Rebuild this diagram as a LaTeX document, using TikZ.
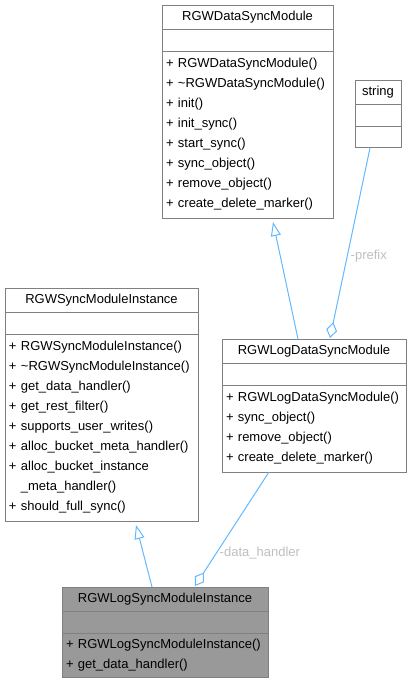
\documentclass[tikz,border=0pt]{standalone}
\usepackage{fontspec}
\setmainfont{Liberation Sans}
\usetikzlibrary{positioning,arrows.meta}
\definecolor{edgeblue}{HTML}{63B8FF}
\definecolor{boxgray}{HTML}{808080}
\definecolor{labelgray}{HTML}{BEBEBE}
\definecolor{curfill}{HTML}{999999}

\begin{document}
\begin{tikzpicture}[
    x=1pt, y=-1pt,
    font=\fontsize{13}{20}\selectfont,
    % Class box parts
    head/.style={draw=boxgray, fill=white, line width=1pt, minimum width=#1pt, minimum height=24pt, inner sep=0pt, outer sep=0pt},
    attr/.style={head=#1, minimum height=22pt},
    ops/.style={head=#1, inner xsep=4pt, text width={#1pt-8pt}, align=left},
    current/.style={fill=curfill},
    % Edge styles
    inherit/.style={-{Triangle[open, length=14pt, width=10pt]}, draw=edgeblue, line width=1pt},
    aggr/.style={{Diamond[open, length=16pt, width=11pt]}-, draw=edgeblue, line width=1pt},
    elabel/.style={text=labelgray, inner sep=0pt},
]
    \useasboundingbox (0,0) rectangle (411,683);

    % RGWDataSyncModule
    \node[head=171] (dsm) at (247.5,17) {RGWDataSyncModule};
    \node[attr=171, below=0pt of dsm] (dsm-attr) {};
    \node[ops=171, minimum height=167pt, below=0pt of dsm-attr] (dsm-ops) {%
        + RGWDataSyncModule()\\
        + \textasciitilde RGWDataSyncModule()\\
        + init()\\
        + init\_sync()\\
        + start\_sync()\\
        + sync\_object()\\
        + remove\_object()\\
        + create\_delete\_marker()};

    % string
    \node[head=46] (str) at (378,92) {string};
    \node[attr=46, below=0pt of str] (str-attr) {};
    \node[attr=46, minimum height=21pt, below=0pt of str-attr] (str-ops) {};

    % RGWSyncModuleInstance
    \node[head=193] (smi) at (101.5,300) {RGWSyncModuleInstance};
    \node[attr=193, below=0pt of smi] (smi-attr) {};
    \node[ops=193, minimum height=187pt, below=0pt of smi-attr] (smi-ops) {%
        + RGWSyncModuleInstance()\\
        + \textasciitilde RGWSyncModuleInstance()\\
        + get\_data\_handler()\\
        + get\_rest\_filter()\\
        + supports\_user\_writes()\\
        + alloc\_bucket\_meta\_handler()\\
        + alloc\_bucket\_instance\\
        \phantom{+ }\_meta\_handler()\\
        + should\_full\_sync()};

    % RGWLogDataSyncModule
    \node[head=184] (ldsm) at (314,351) {RGWLogDataSyncModule};
    \node[attr=184, below=0pt of ldsm] (ldsm-attr) {};
    \node[ops=184, minimum height=87pt, below=0pt of ldsm-attr] (ldsm-ops) {%
        + RGWLogDataSyncModule()\\
        + sync\_object()\\
        + remove\_object()\\
        + create\_delete\_marker()};

    % RGWLogSyncModuleInstance
    \node[head=206, current] (lsmi) at (165,599) {RGWLogSyncModuleInstance};
    \node[attr=206, current, below=0pt of lsmi] (lsmi-attr) {};
    \node[ops=206, current, minimum height=44pt, below=0pt of lsmi-attr] (lsmi-ops) {%
        + RGWLogSyncModuleInstance()\\
        + get\_data\_handler()};

    % Connections
    \draw[inherit] ([xshift=-16pt]ldsm.north) -- ([xshift=25.5pt, yshift=-4pt]dsm-ops.south);
    \draw[aggr] ([xshift=16pt, yshift=1pt]ldsm.north) -- node[elabel, pos=0.43, right=3pt] {-prefix} ([xshift=-8pt, yshift=-1pt]str-ops.south);
    \draw[inherit] ([xshift=-13pt]lsmi.north) -- ([xshift=34.5pt, yshift=-4pt]smi-ops.south);
    \draw[aggr] ([xshift=30pt, yshift=1pt]lsmi.north) -- node[elabel, pos=0.287, right=3pt] {-data\_handler} ([xshift=-45pt]ldsm-ops.south);

\end{tikzpicture}
\end{document}
